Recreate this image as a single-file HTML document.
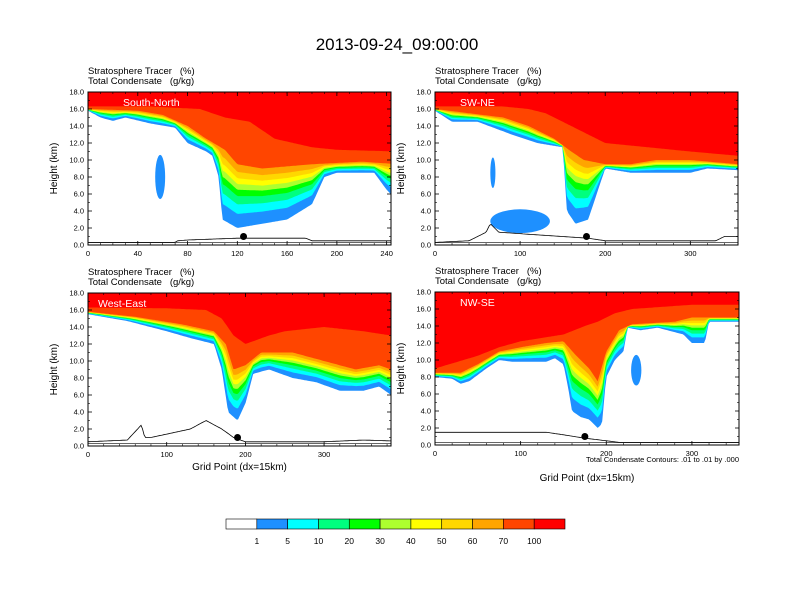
<!DOCTYPE html>
<html><head><meta charset="utf-8"><style>
html,body{margin:0;padding:0;background:#fff;}
svg{display:block;font-family:"Liberation Sans",sans-serif;}
.pre{white-space:pre;}
</style></head><body>
<svg id="fig" width="792" height="612" viewBox="0 0 792 612" xmlns="http://www.w3.org/2000/svg">
<text x="397" y="50" font-size="17" text-anchor="middle">2013-09-24_09:00:00</text>
<g id="panels"></g>
<g id="cbar"></g>
</svg>
<script>
// colour levels
const levelLabels = ["1","5","10","20","30","40","50","60","70","100"];
const colors = ["#ffffff","#1e90ff","#00ffff","#00ff7f","#00ff00","#adff2f","#ffff00","#ffd700","#ffa500","#ff4500","#ff0000"];
// fraction of the 1%..70% gap at which levels 1,5,10,20,30,40,50,60,70 lie
const levelFrac = [0,0.22,0.37,0.5,0.6,0.69,0.78,0.88,1];

// panel 1: South-North  (h1 = 1% contour, h60 = 70% contour, h70 = 100% contour)
const p1x = [0,10,20,30,50,70,80,95,100,105,108,120,140,160,180,190,200,230,240,250];
const p1h1 = [15.8,15,14.6,15,14.3,13.8,12,11,10.5,8,3,2,2.5,3,4.8,8,8.5,8.5,6.5,5];
const p1h60x = [0,40,60,80,95,110,120,140,180,220,250];
const p1h60 = [16,15.8,15.3,14,12.5,11.2,9.5,9,9.5,9.8,9.5];
const p1h70x = [0,50,90,110,130,150,180,200,250];
const p1h70 = [16.3,16.3,16,15,14.5,12.5,11.5,11.2,11];
const p1terrX = [0,70,72,82,120,175,180,250];
const p1terr = [0.3,0.3,0.5,0.6,0.8,0.8,0.5,0.5];
// isolated blobs: [x, height, half-width, half-height]
const p1blobs = [[58,8,4,2.6]];

// panel 2: SW-NE
const p2x = [0,20,50,90,120,150,155,165,180,190,200,230,260,300,320,356];
const p2h1 = [15.8,14.5,14.5,13,12,11.5,4,2.5,3,6,9,8.5,8.5,8.5,9,8.8];
const p2h60x = [0,40,80,110,140,160,175,200,230,260,300,356];
const p2h60 = [16,15.5,15,14,12.5,11,10,9.5,9.5,10,10,9.5];
const p2h70x = [0,80,110,130,160,180,200,250,300,356];
const p2h70 = [16.3,16.3,16,15.5,14,13,12,11.5,11,10.5];
const p2terrX = [0,40,60,65,75,90,120,180,200,330,340,356];
const p2terr = [0.3,0.5,1.5,2.5,1.5,1.4,1.2,0.8,0.5,0.5,1,1];
const p2blobs = [[100,2.8,35,1.4],[68,8.5,3,1.8]];

// panel 3: West-East
const p3x = [0,50,100,130,160,170,178,190,200,210,230,260,290,320,350,370,385];
const p3h1 = [15.5,14.7,13.5,12.7,12,9,4,3,5,8.5,9,8,7.5,6.5,6.5,7,6];
const p3h60x = [0,60,120,160,175,185,200,220,260,300,340,370,385];
const p3h60 = [15.8,15.2,14.3,13.5,12,9,9.5,11,11,10,9,9.5,9];
const p3h70x = [0,100,150,170,185,200,230,250,300,350,385];
const p3h70 = [16.3,16.2,16,15,13,12,13,13.5,14,13.5,13];
const p3terrX = [0,50,68,72,80,130,150,170,185,200,300,350,385];
const p3terr = [0.5,0.7,2.5,1,1,2,3,2,1,0.5,0.5,0.7,0.6];
const p3blobs = [];

// panel 4: NW-SE
const p4x = [0,20,30,40,60,75,90,130,140,150,155,160,170,180,190,195,200,210,220,225,240,260,290,300,310,315,320,340,355];
const p4h1 = [8,7.8,7.2,7.5,9,10,9.8,9.8,10.2,9.5,7,4,3.3,3,2,2.5,8,10,11,13.8,13.5,13.8,13,12,12,12,14.5,14.5,14.5];
const p4h60x = [0,30,50,75,100,130,150,165,180,190,200,215,230,280,300,330,355];
const p4h60 = [8.5,8.5,9.5,11,11.5,12,12.2,10.5,9,7.5,11,13.5,14.2,14.5,15,15,15];
const p4h70x = [0,50,75,100,150,175,190,210,230,300,355];
const p4h70 = [9,10.5,11.5,12.2,13,14,14.5,15.5,16,16.5,16.5];
const p4terrX = [0,50,100,130,150,175,200,215,355];
const p4terr = [1.5,1.5,1.5,1.5,1.2,0.8,0.5,0.3,0.3];
const p4blobs = [[235,8.8,6,1.8]];

const panelsCfg = [
 {name:"south-north",label:"South-North",x0:88,x1:391,y0:92,y1:245,xmax:243.5,ticks:[0,40,80,120,160,200,240],minor:10,
  hx:p1x,h1:p1h1,h60x:p1h60x,h60:p1h60,h70x:p1h70x,h70:p1h70,tx:p1terrX,t:p1terr,blobs:p1blobs,dot:125,lx:123,xtitle:0},
 {name:"sw-ne",label:"SW-NE",x0:435,x1:738,y0:92,y1:245,xmax:356,ticks:[0,100,200,300],minor:20,
  hx:p2x,h1:p2h1,h60x:p2h60x,h60:p2h60,h70x:p2h70x,h70:p2h70,tx:p2terrX,t:p2terr,blobs:p2blobs,dot:178,lx:460,xtitle:0},
 {name:"west-east",label:"West-East",x0:88,x1:391,y0:293,y1:446,xmax:385,ticks:[0,100,200,300],minor:20,
  hx:p3x,h1:p3h1,h60x:p3h60x,h60:p3h60,h70x:p3h70x,h70:p3h70,tx:p3terrX,t:p3terr,blobs:p3blobs,dot:190,lx:98,xtitle:24},
 {name:"nw-se",label:"NW-SE",x0:435,x1:739,y0:292,y1:445,xmax:355,ticks:[0,100,200,300],minor:20,
  hx:p4x,h1:p4h1,h60x:p4h60x,h60:p4h60,h70x:p4h70x,h70:p4h70,tx:p4terrX,t:p4terr,blobs:p4blobs,dot:175,lx:460,xtitle:36,note:true}
];

const NS="http://www.w3.org/2000/svg";
function mk(tag,attrs,parent){const e=document.createElementNS(NS,tag);for(const k in attrs)e.setAttribute(k,attrs[k]);if(parent)parent.appendChild(e);return e;}
function interp(xs,ys,x){if(x<=xs[0])return ys[0];for(let i=1;i<xs.length;i++){if(x<=xs[i]){const t=(x-xs[i-1])/(xs[i]-xs[i-1]);return ys[i-1]+t*(ys[i]-ys[i-1]);}}return ys[ys.length-1];}

const root=document.getElementById('panels');
panelsCfg.forEach(p=>{
  const g=mk('g',{},root);
  
  
  const sx=v=>p.x0+(v/p.xmax)*(p.x1-p.x0);
  const sy=v=>p.y1-(v/18)*(p.y1-p.y0);
  const clipId='clip-'+p.name;
  const cp=mk('clipPath',{id:clipId},g);mk('rect',{x:p.x0,y:p.y0,width:p.x1-p.x0,height:p.y1-p.y0},cp);
  const plot=mk('g',{'clip-path':'url(#'+clipId+')'},g);
  mk('rect',{x:p.x0,y:p.y0,width:p.x1-p.x0,height:p.y1-p.y0,fill:'#fff'},plot);
  const N=200;
  const boundary=(fn,ci,nm)=>{
    let pts=[];
    for(let i=0;i<=N;i++){const xv=p.xmax*i/N;pts.push(sx(xv).toFixed(1)+','+sy(fn(xv)).toFixed(1));}
    pts.push(p.x1+','+(p.y0-1));pts.push(p.x0+','+(p.y0-1));
    const el=mk('polygon',{points:pts.join(' '),fill:colors[ci]},plot);
    
    
  };
  levelFrac.forEach((f,k)=>{
    boundary(xv=>{const a=interp(p.hx,p.h1,xv),b=interp(p.h60x,p.h60,xv);return Math.min(a+f*(b-a), interp(p.h70x,p.h70,xv));},k+1,'tracer-band-'+levelLabels[k]);
  });
  boundary(xv=>interp(p.h70x,p.h70,xv),10,'tracer-band-100');
  p.blobs.forEach(b=>{
    const rx=Math.abs(sx(b[2])-sx(0)), ry=Math.abs(sy(b[3])-sy(0));
    const e=mk('ellipse',{cx:sx(b[0]),cy:sy(b[1]),rx:rx,ry:ry,fill:colors[1]},plot);
    
    
  });
  // terrain
  let tp=[];for(let i=0;i<=N;i++){const xv=p.xmax*i/N;tp.push(sx(xv).toFixed(1)+','+sy(interp(p.tx,p.t,xv)).toFixed(1));}
  mk('line',{x1:p.x0,x2:p.x1,y1:sy(0.3),y2:sy(0.3),stroke:'#666','stroke-width':1},plot);
  const terr=mk('polyline',{points:tp.join(' '),fill:'none',stroke:'#000','stroke-width':0.8},plot);
  
  
  const dot=mk('circle',{cx:sx(p.dot),cy:sy(1.0),r:3.5,fill:'#000'},plot);
  
  
  // frame
  mk('rect',{x:p.x0,y:p.y0,width:p.x1-p.x0,height:p.y1-p.y0,fill:'none',stroke:'#000','stroke-width':1},g);
  // y ticks
  for(let v=0;v<=18;v+=2){
    const y=sy(v);
    mk('line',{x1:p.x0,x2:p.x0+4,y1:y,y2:y,stroke:'#000','stroke-width':0.8},g);
    mk('line',{x1:p.x1,x2:p.x1-4,y1:y,y2:y,stroke:'#000','stroke-width':0.8},g);
    if(v<18){const ym=sy(v+1);mk('line',{x1:p.x0,x2:p.x0+2,y1:ym,y2:ym,stroke:'#000','stroke-width':0.6},g);mk('line',{x1:p.x1,x2:p.x1-2,y1:ym,y2:ym,stroke:'#000','stroke-width':0.6},g);}
    const t=mk('text',{x:p.x0-4,y:y+2.5,'font-size':7.5,'text-anchor':'end'},g);t.textContent=v.toFixed(1);
    
    
  }
  for(let v=0;v<=p.xmax;v+=p.minor){const x=sx(v);
    mk('line',{x1:x,x2:x,y1:p.y1,y2:p.y1-2,stroke:'#000','stroke-width':0.6},g);
    mk('line',{x1:x,x2:x,y1:p.y0,y2:p.y0+2,stroke:'#000','stroke-width':0.6},g);}
  p.ticks.forEach(v=>{const x=sx(v);
    mk('line',{x1:x,x2:x,y1:p.y1,y2:p.y1-4,stroke:'#000','stroke-width':0.8},g);
    mk('line',{x1:x,x2:x,y1:p.y0,y2:p.y0+4,stroke:'#000','stroke-width':0.8},g);
    const t=mk('text',{x:x,y:p.y1+11,'font-size':7.5,'text-anchor':'middle'},g);t.textContent=v;
    
    
  });
  const yt=mk('text',{x:0,y:0,'font-size':10,'text-anchor':'middle',transform:'translate('+(p.x0-31)+','+((p.y0+p.y1)/2)+') rotate(-90)'},g);
  yt.textContent='Height (km)';
  
  
  const s1=mk('text',{x:p.x0,y:p.y0-18,'font-size':9.5,'class':'pre'},g);s1.textContent='Stratosphere Tracer   (%)';
  
  
  const s2=mk('text',{x:p.x0,y:p.y0-8,'font-size':9.5,'class':'pre'},g);s2.textContent='Total Condensate   (g/kg)';
  
  
  const lb=mk('text',{x:p.lx,y:p.y0+14,'font-size':10.5,fill:'#fff'},g);lb.textContent=p.label;
  
  
  if(p.xtitle){const xt=mk('text',{x:(p.x0+p.x1)/2,y:p.y1+p.xtitle,'font-size':10,'text-anchor':'middle'},g);xt.textContent='Grid Point (dx=15km)';
    
    }
  if(p.note){const nt=mk('text',{x:p.x1,y:p.y1+17,'font-size':7.5,'text-anchor':'end'},g);nt.textContent='Total Condensate Contours: .01 to .01 by .000';
    
    }
});

// colorbar
const cb=document.getElementById('cbar');
const cbx0=226,cbx1=565,cby=519,cbh=10,bw=(cbx1-cbx0)/colors.length;
colors.forEach((c,i)=>{
  const r=mk('rect',{x:cbx0+i*bw,y:cby,width:bw,height:cbh,fill:c,stroke:'#000','stroke-width':0.6},cb);
  
  
});
levelLabels.forEach((l,i)=>{
  const t=mk('text',{x:cbx0+(i+1)*bw,y:cby+25,'font-size':8.5,'text-anchor':'middle'},cb);t.textContent=l;
  
  
});
</script>
</body></html>
